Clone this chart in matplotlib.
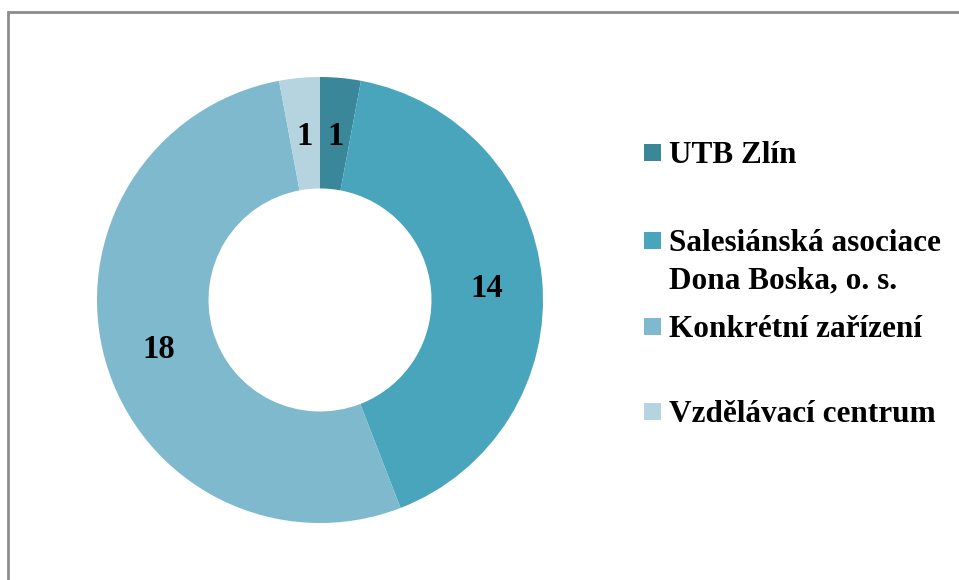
import matplotlib.pyplot as plt
from matplotlib.patches import Rectangle

# data
categories = ["UTB Zlín", "Salesiánská asociace\nDona Boska, o. s.",
              "Konkrétní zařízení", "Vzdělávací centrum"]
values = [1, 14, 18, 1]
colors = ["#3A8799", "#48A5BC", "#7FB9CE", "#B5D4E0"]

W, H = 959, 580
fig = plt.figure(figsize=(W / 100, H / 100), dpi=100)
plt.rcParams["font.family"] = ["Liberation Serif", "DejaVu Serif"]

# chart area border (right/bottom edges run off the image)
fig.patches.append(Rectangle((8 / W, -0.1), 1.2, (H - 12) / H + 0.1,
                             transform=fig.transFigure, fill=False,
                             edgecolor="#8C8C8C", linewidth=2))

# donut
cx, cy, r = 320, 300, 223
ax = fig.add_axes([(cx - r) / W, (H - cy - r) / H, 2 * r / W, 2 * r / H])
wedges, texts = ax.pie(values, colors=colors, startangle=90, counterclock=False,
                       radius=1, wedgeprops=dict(width=0.5, linewidth=0),
                       labels=[str(v) for v in values], labeldistance=0.75,
                       textprops=dict(fontsize=23.5, fontweight="bold",
                                      ha="center", va="center_baseline"))
ax.set_xlim(-1, 1)
ax.set_ylim(-1, 1)
ax.set_aspect("equal")
ax.axis("off")

# legend, placed like the original
legend_y = [152, 240, 326, 411]
for name, col, y in zip(categories, colors, legend_y):
    fig.patches.append(Rectangle((644 / W, (H - y - 8.5) / H), 17 / W, 17 / H,
                                 transform=fig.transFigure, facecolor=col,
                                 edgecolor="none"))
    lines = name.split("\n")
    for i, line in enumerate(lines):
        fig.text(669 / W, (H - y - 37 * i) / H, line, fontsize=22.5,
                 fontweight="bold", va="center_baseline", ha="left")

fig.savefig("out.png", dpi=100)
